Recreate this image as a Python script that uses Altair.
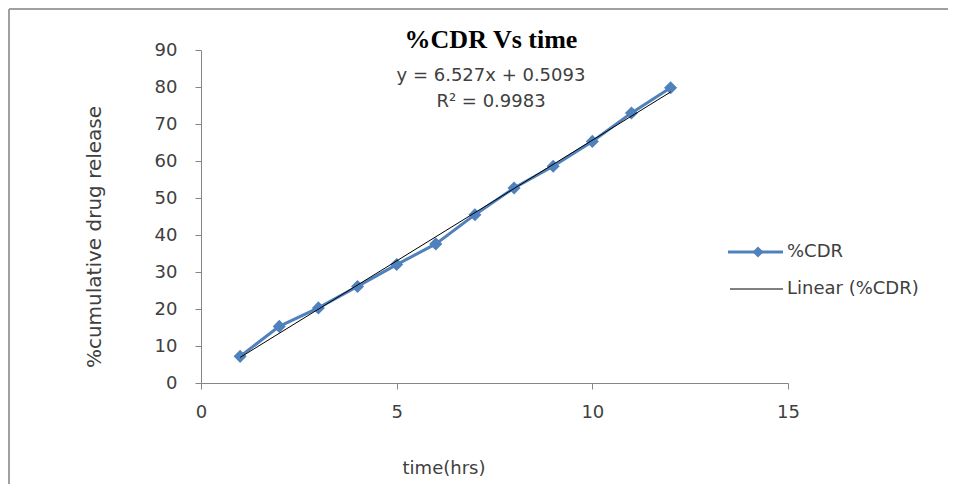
import altair as alt
import pandas as pd

# Data
time_hrs = [1, 2, 3, 4, 5, 6, 7, 8, 9, 10, 11, 12]
cdr = [7.2, 15.3, 20.3, 26.1, 32.0, 37.6, 45.5, 52.7, 58.6, 65.3, 73.0, 79.8]
x_ticks = [0, 5, 10, 15]
y_ticks = [0, 10, 20, 30, 40, 50, 60, 70, 80, 90]
series_names = ["%CDR", "Linear (%CDR)"]
chart_title = "%CDR Vs time"
equation_lines = ["y = 6.527x + 0.5093", "R\u00b2 = 0.9983"]
x_title = "time(hrs)"
y_title = "%cumulative drug release"

BLUE = "#4F81BD"
AXIS = "#868686"
TXT = "#404040"
SANS = "DejaVu Sans"

df = pd.DataFrame({"time": time_hrs, "cdr": cdr})

xs = alt.X("time:Q", scale=alt.Scale(domain=[0, 15], nice=False),
           axis=alt.Axis(values=x_ticks, title=None, grid=False, domainColor=AXIS,
                         tickColor=AXIS, tickSize=6, labelPadding=14,
                         labelColor=TXT, labelFont=SANS, labelFontSize=18,
                         labelOverlap=False, labelFlush=False))
ys = alt.Y("cdr:Q", scale=alt.Scale(domain=[0, 90], nice=False),
           axis=alt.Axis(values=y_ticks, title=None, grid=False, domainColor=AXIS,
                         tickColor=AXIS, tickSize=6, labelPadding=18,
                         labelColor=TXT, labelFont=SANS, labelFontSize=18,
                         labelOverlap=False, labelFlush=False))

base = alt.Chart(df)

series = base.mark_line(color=BLUE, strokeWidth=3,
                        point=alt.OverlayMarkDef(shape="diamond", size=170,
                                                 filled=True, color=BLUE, opacity=1)
                        ).encode(x=xs, y=ys)

trend = base.transform_regression("time", "cdr").mark_line(
    color="black", strokeWidth=1).encode(x=xs, y=ys)

one = pd.DataFrame({"k": [0]})


def label(text, x, y, **kw):
    props = dict(font=SANS, fontSize=18, color=TXT, align="center", baseline="middle")
    props.update(kw)
    return alt.Chart(pd.DataFrame({"t": [text]})).mark_text(**props).encode(
        text="t:N", x=alt.value(x), y=alt.value(y))


title_txt = label(chart_title, 290, -10, font="Liberation Serif", fontWeight="bold",
                  fontSize=26, color="black")
eq1 = label(equation_lines[0], 290, 26)
eq2 = label(equation_lines[1], 290, 52)
xt = label(x_title, 243, 419)
yt = label(y_title, -106, 187, angle=270, fontSize=20)

# legend
leg_line1 = alt.Chart(one).mark_rule(color=BLUE, strokeWidth=3).encode(
    x=alt.value(527), x2=alt.value(582), y=alt.value(202))
leg_pt = alt.Chart(one).mark_point(shape="diamond", size=120, filled=True,
                                   color=BLUE, opacity=1).encode(
    x=alt.value(557), y=alt.value(202))
leg_line2 = alt.Chart(one).mark_rule(color="black", strokeWidth=1).encode(
    x=alt.value(529), x2=alt.value(582), y=alt.value(239))
leg1 = label(series_names[0], 586, 202, align="left", fontSize=18)
leg2 = label(series_names[1], 586, 239, align="left", fontSize=18)

# outer frame
frame_top = alt.Chart(one).mark_rule(color="#A0A0A0", strokeWidth=2).encode(
    x=alt.value(-192), x2=alt.value(760), y=alt.value(-41))
frame_left = alt.Chart(one).mark_rule(color="#A0A0A0", strokeWidth=2).encode(
    x=alt.value(-192), y=alt.value(-41), y2=alt.value(460))

chart = alt.layer(
    frame_top, frame_left, series, trend, title_txt, eq1, eq2, xt, yt,
    leg_line1, leg_pt, leg_line2, leg1, leg2
).properties(
    width=587, height=333,
    padding={"left": 193, "top": 42, "right": 160, "bottom": 110},
    autosize=alt.AutoSizeParams(type="none"),
    background="white",
).configure_view(stroke=None)

chart.save("out.html", embed_options={"renderer": "svg", "actions": False})
